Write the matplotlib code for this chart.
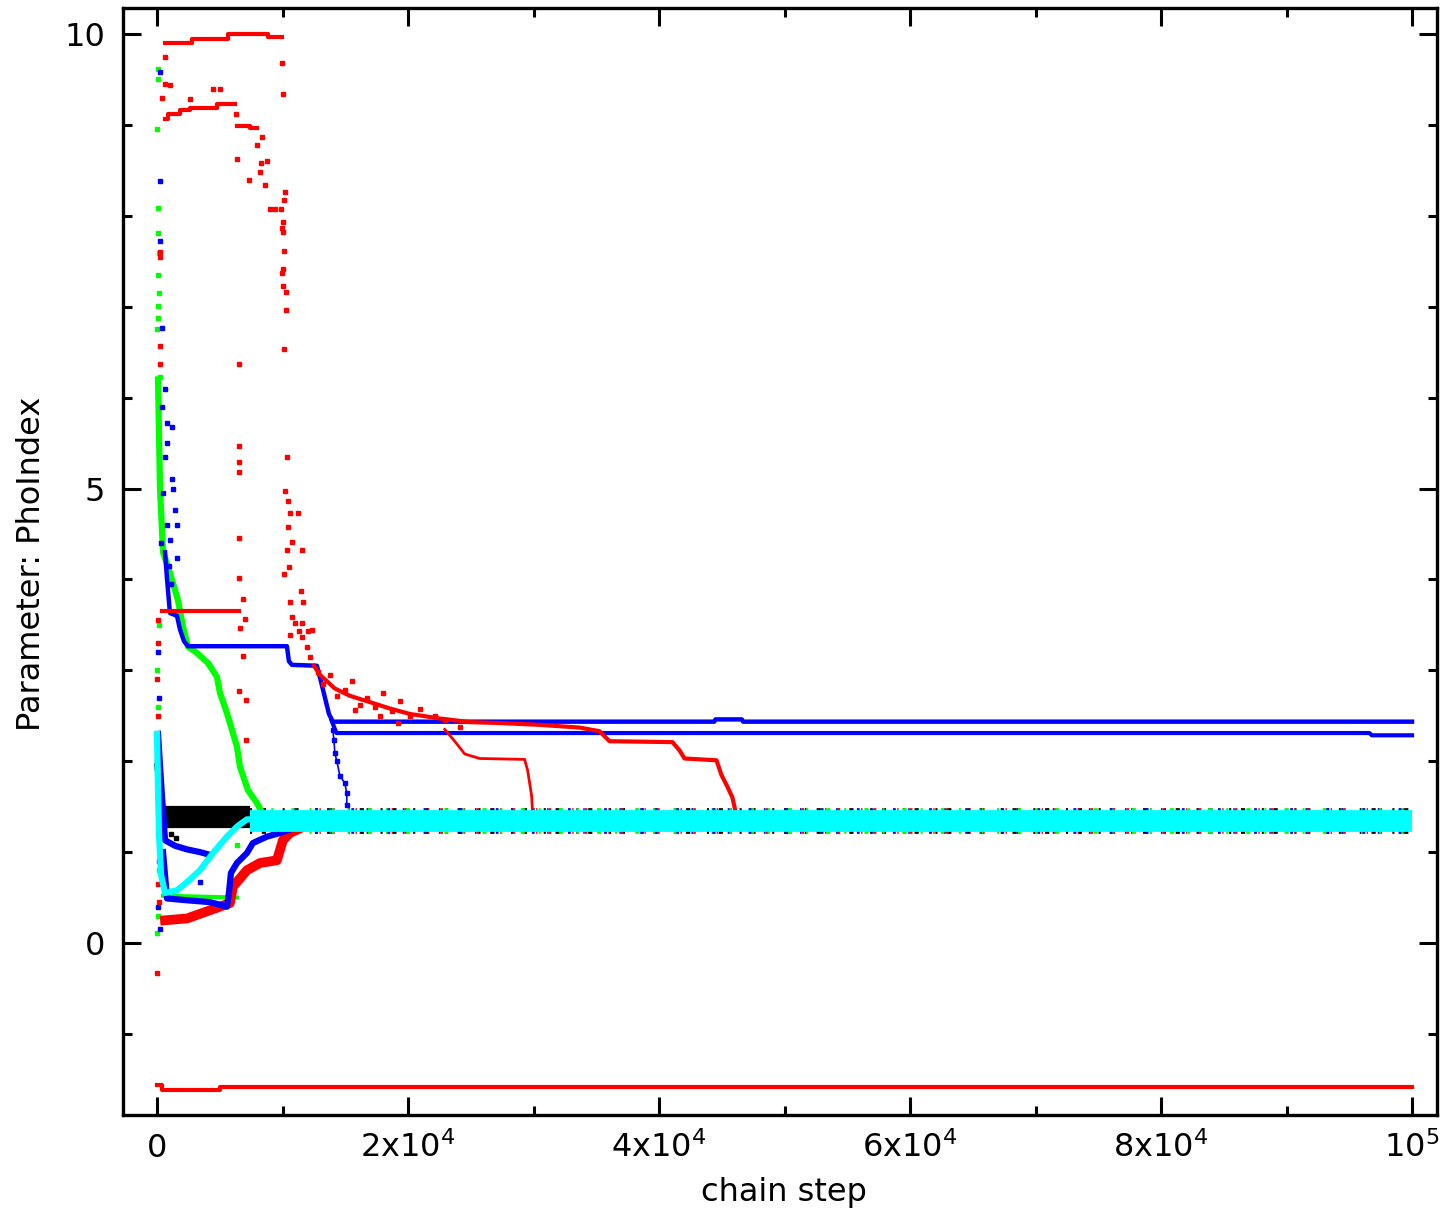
import matplotlib
matplotlib.use('Agg')
import matplotlib.pyplot as plt
from matplotlib.ticker import MultipleLocator

plt.rcParams['font.family'] = ['DejaVu Sans']
plt.rcParams['mathtext.default'] = 'regular'
plt.rcParams['lines.scale_dashes'] = False

RED = '#ff0000'; GREEN = '#00ff00'; BLUE = '#0000ff'; CYAN = '#00ffff'; BLACK = '#000000'

# ---------------- data (chain step, PhoIndex) ----------------
x_ticks = [0, 20000, 40000, 60000, 80000, 100000]
x_tick_labels = ['0', '2x10$^4$', '4x10$^4$', '6x10$^4$', '8x10$^4$', '10$^5$']
y_ticks = [0, 5, 10]
y_tick_labels = ['0', '5', '10']

chain_end = 100000

# red chains
red_top_x = [640, 2760, 5650, 8840, 9930]
red_top_y = [9.905, 9.945, 10.0, 9.97, 9.97]
red_hi_x = [640, 880, 1830, 2630, 4750, 6210]
red_hi_y = [9.07, 9.12, 9.165, 9.19, 9.225, 9.225]
red_hi2_x = [6370, 7400, 8000]
red_hi2_y = [8.99, 8.97, 8.97]
red_flat_x = [400, 6500]
red_flat_y = [3.652, 3.652]
red_floor_x = [0, 400, 5000, 100000]
red_floor_y = [-1.56, -1.62, -1.583, -1.583]
red_low_x = [637, 2388, 4219, 5811, 6050, 7164, 8199, 9552, 10030, 10587, 11383]
red_low_y = [0.25, 0.27, 0.36, 0.44, 0.62, 0.80, 0.88, 0.91, 1.13, 1.21, 1.26]
red_slow_x = [12500, 12980, 14170, 15360, 16960, 18550, 20140, 22530, 24920, 27300,
              30490, 33670, 35260, 36060, 41070, 41630, 42030, 44580, 44970, 45450,
              45850, 46170]
red_slow_y = [3.05, 2.95, 2.80, 2.72, 2.65, 2.58, 2.52, 2.47, 2.43, 2.42,
              2.40, 2.37, 2.33, 2.22, 2.21, 2.12, 2.03, 2.01, 1.85, 1.72,
              1.60, 1.40]
red_mid_x = [22930, 23720, 24520, 25710, 29290, 29530, 29850, 29930]
red_mid_y = [2.35, 2.22, 2.08, 2.03, 2.02, 1.90, 1.62, 1.42]
red_dots_x = [640, 400, 640, 1000, 2630, 4500, 5000, 9950, 10030,
              8360, 7960, 6370, 8280, 8760, 8200, 7320, 8600, 10190, 10110, 9000, 9400,
              9900, 10030, 9950, 10030, 10110, 10030, 9950, 10030, 10270, 10270, 10110, 6530,
              6530, 10350, 6530, 6530, 10190, 10430, 10590, 11220, 10430, 10750, 10350,
              11540, 10510, 10110, 6530, 6530, 11460, 10590, 11620, 6850, 10750, 11000,
              11540, 11300, 12020, 12340, 10590, 11540, 7000, 6610, 11940, 12180, 6850,
              6530, 7080, 7080, 6300,
              240, 240, 240, 240, 80, 80, 0, 80, 0, 160, 0, 80, 160,
              13210, 13770, 14330, 14970, 15520, 16160, 16720, 17350, 17990, 18710,
              19180, 19340, 20140, 20940, 22130, 22930, 24120, 17750, 15760, 12800]
red_dots_y = [9.75, 9.30, 9.45, 9.44, 9.28, 9.39, 9.39, 9.68, 9.34,
              8.87, 8.78, 8.62, 8.58, 8.60, 8.48, 8.39, 8.34, 8.26, 8.17, 8.07, 8.07,
              8.07, 7.93, 7.87, 7.82, 7.61, 7.42, 7.37, 7.23, 7.16, 6.96, 6.54, 6.37,
              5.47, 5.35, 5.29, 5.18, 4.97, 4.86, 4.73, 4.73, 4.58, 4.41, 4.32,
              4.32, 4.14, 4.06, 4.46, 4.02, 3.87, 3.75, 3.75, 3.78, 3.59, 3.52,
              3.52, 3.43, 3.43, 3.44, 3.39, 3.37, 3.56, 3.47, 3.26, 3.15, 3.16,
              2.77, 2.67, 2.23, 9.12,
              7.60, 7.55, 6.57, 6.37, 3.55, 3.30, 2.90, 2.50, 2.20, 1.90, -0.33, 0.65, 0.45,
              2.85, 2.95, 2.72, 2.78, 2.88, 2.62, 2.70, 2.60, 2.75, 2.55,
              2.42, 2.66, 2.50, 2.57, 2.50, 2.45, 2.38, 2.50, 2.56, 2.98]

# blue chains
blue_stair_x = [640, 800, 1030, 1590, 1830, 2150, 2470, 10350, 10510, 10750, 12740,
                13060, 13380, 13700, 14010, 44400, 44500, 46600, 46700, 100000]
blue_stair_y = [4.30, 4.00, 3.63, 3.60, 3.45, 3.32, 3.265, 3.265, 3.10, 3.06, 3.05,
                2.88, 2.70, 2.52, 2.435, 2.435, 2.46, 2.46, 2.435, 2.435]
blue_second_x = [13900, 14300, 96600, 96800, 100000]
blue_second_y = [2.45, 2.31, 2.31, 2.285, 2.285]
blue_drop_x = [14010, 14100, 14170, 14330, 14570, 14960, 15120, 15120]
blue_drop_y = [2.34, 2.23, 2.09, 2.00, 1.84, 1.76, 1.65, 1.52]
blue_upper_x = [80, 400, 640, 1430, 2390, 3420, 4220]
blue_upper_y = [2.30, 1.60, 1.13, 1.07, 1.03, 1.00, 0.97]
blue_lower_x = [478, 796, 2388, 4219, 5572, 5731, 5890, 6368, 7164, 7642, 8756, 9791, 10826]
blue_lower_y = [1.00, 0.49, 0.47, 0.45, 0.40, 0.55, 0.77, 0.88, 0.99, 1.10, 1.17, 1.21, 1.26]
blue_dots_x = [240, 240, 240, 400, 640, 800, 1190, 800, 1190, 1270, 1430, 1590, 1040, 1590,
               400, 640, 480, 800, 320, 960, 1110, 80, 160, 80, 240, 160, 80, 240, 3420]
blue_dots_y = [9.58, 8.38, 7.72, 6.77, 6.10, 5.72, 5.68, 5.50, 5.10, 5.00, 4.76, 4.60, 4.43, 4.24,
               5.90, 5.35, 4.95, 4.60, 4.40, 4.15, 3.95, 3.20, 2.70, 2.00, 1.45, 0.90, 0.40, 0.15, 0.67]

# green chains
green_path_x = [80, 240, 480, 1035, 1670, 2070, 2470, 3190, 4060, 4770, 5020, 5570,
                6050, 6370, 6610, 7250, 7960, 8440]
green_path_y = [6.20, 5.00, 4.30, 4.07, 3.77, 3.48, 3.26, 3.19, 3.08, 2.93, 2.75, 2.53,
                2.31, 2.16, 1.94, 1.68, 1.54, 1.42]
green_low_x = [478, 6370]
green_low_y = [0.52, 0.50]
green_dots_x = [80, 80, 0, 80, 80, 160, 80, 160, 80, 80, 0, 240, 0, 80, 0, 80, 160, 80, 0, 160, 6370]
green_dots_y = [9.62, 9.50, 8.95, 8.09, 7.81, 7.59, 7.35, 7.15, 7.01, 6.88, 6.75, 6.23,
                3.00, 2.60, 2.00, 1.20, 0.80, 0.30, 0.11, 3.50, 1.08]

# black chain
black_path_x = [0, 80, 240, 480, 640]
black_path_y = [1.95, 1.85, 1.62, 1.50, 1.42]
black_early_x = [640, 7400]
black_early_y = [1.39, 1.39]
black_dots_x = [1100, 1500]
black_dots_y = [1.20, 1.15]

# cyan chain
cyan_path_x = [0, 80, 160, 320, 640, 1590, 2390, 3420, 4460, 5570, 6370, 7160, 7640]
cyan_path_y = [2.30, 1.70, 1.20, 0.75, 0.55, 0.58, 0.67, 0.80, 0.99, 1.17, 1.28, 1.36, 1.36]

# converged band (all chains)
band_colors = [BLACK, RED, GREEN, BLUE]
band_start_x = [7400, 11383, 8440, 10826]
band_level = 1.345
cyan_band_start = 7400

# ---------------- figure ----------------
fig = plt.figure(figsize=(14.41, 12.13), dpi=100)
ax = fig.add_axes([123 / 1441, 1 - 1115 / 1213, (1437 - 123) / 1441, (1115 - 8) / 1213])
ax.set_xlim(-2710, 101990)
ax.set_ylim(-1.892, 10.286)

# band underlayers with speckled edges
dash_styles = [(0, (1.5, 7, 3, 12)), (3, (2, 15, 1, 8)), (7, (3, 10, 1.5, 13)), (10, (2, 9, 1, 14))]
for c, xs, ls in zip(band_colors, band_start_x, dash_styles):
    ax.plot([xs, chain_end], [band_level, band_level], color=c, lw=18.5,
            linestyle=ls, solid_capstyle='butt', zorder=2)

# black
ax.plot(black_path_x, black_path_y, color=BLACK, lw=4, zorder=3)
ax.plot(black_early_x, black_early_y, color=BLACK, lw=16, solid_capstyle='butt', zorder=3)
ax.plot(black_dots_x, black_dots_y, 's', color=BLACK, ms=3, zorder=3)

# blue
ax.plot(blue_stair_x, blue_stair_y, color=BLUE, lw=3.2, zorder=4)
ax.plot(blue_second_x, blue_second_y, color=BLUE, lw=3.0, zorder=4)
ax.plot(blue_drop_x, blue_drop_y, color=BLUE, lw=1.2, marker='s', ms=2.5, zorder=4)
ax.plot(blue_upper_x, blue_upper_y, color=BLUE, lw=4.5, zorder=4)
ax.plot(blue_lower_x, blue_lower_y, color=BLUE, lw=4.5, zorder=4)
ax.plot(blue_dots_x, blue_dots_y, 's', color=BLUE, ms=3, zorder=4)

# green
ax.plot(green_path_x, green_path_y, color=GREEN, lw=4.5, zorder=3.5)
ax.plot(green_low_x, green_low_y, color=GREEN, lw=3, zorder=3.5)
ax.plot(green_dots_x, green_dots_y, 's', color=GREEN, ms=3, zorder=3.5)

# red
ax.plot(red_top_x, red_top_y, color=RED, lw=3, drawstyle='steps-post', zorder=5)
ax.plot(red_hi_x, red_hi_y, color=RED, lw=3, drawstyle='steps-post', zorder=5)
ax.plot(red_hi2_x, red_hi2_y, color=RED, lw=3, drawstyle='steps-post', zorder=5)
ax.plot(red_flat_x, red_flat_y, color=RED, lw=3, zorder=5)
ax.plot(red_floor_x, red_floor_y, color=RED, lw=3, drawstyle='steps-post', zorder=5)
ax.plot(red_low_x, red_low_y, color=RED, lw=7, zorder=3.8)
ax.plot(red_slow_x, red_slow_y, color=RED, lw=3, zorder=5)
ax.plot(red_mid_x, red_mid_y, color=RED, lw=2, zorder=5)
ax.plot(red_dots_x, red_dots_y, 's', color=RED, ms=3, zorder=5)

# cyan
ax.plot(cyan_path_x, cyan_path_y, color=CYAN, lw=4.5, zorder=6)
ax.plot([cyan_band_start, chain_end], [band_level, band_level], color=CYAN, lw=15.7,
        solid_capstyle='butt', zorder=6)

# ---------------- axes styling ----------------
for s in ax.spines.values():
    s.set_linewidth(2.4)
ax.set_xticks(x_ticks, x_tick_labels)
ax.set_yticks(y_ticks, y_tick_labels)
ax.xaxis.set_minor_locator(MultipleLocator(10000))
ax.yaxis.set_minor_locator(MultipleLocator(1))
ax.tick_params(which='both', direction='in', top=True, right=True, width=2.2, labelsize=23)
ax.tick_params(which='major', length=13)
ax.tick_params(which='minor', length=6.5)
ax.tick_params(axis='y', pad=13)
ax.tick_params(axis='x', pad=30)
for t in ax.xaxis.get_major_ticks():
    t.label1.set_verticalalignment('baseline')

fig.text(32 / 1441, 1 - 564 / 1213, 'Parameter: PhoIndex', rotation=90,
         ha='center', va='center', fontsize=23)
fig.text(784 / 1441, 1 - 1193 / 1213, 'chain step', ha='center', va='center', fontsize=23)

fig.savefig('out.png', dpi=100)
